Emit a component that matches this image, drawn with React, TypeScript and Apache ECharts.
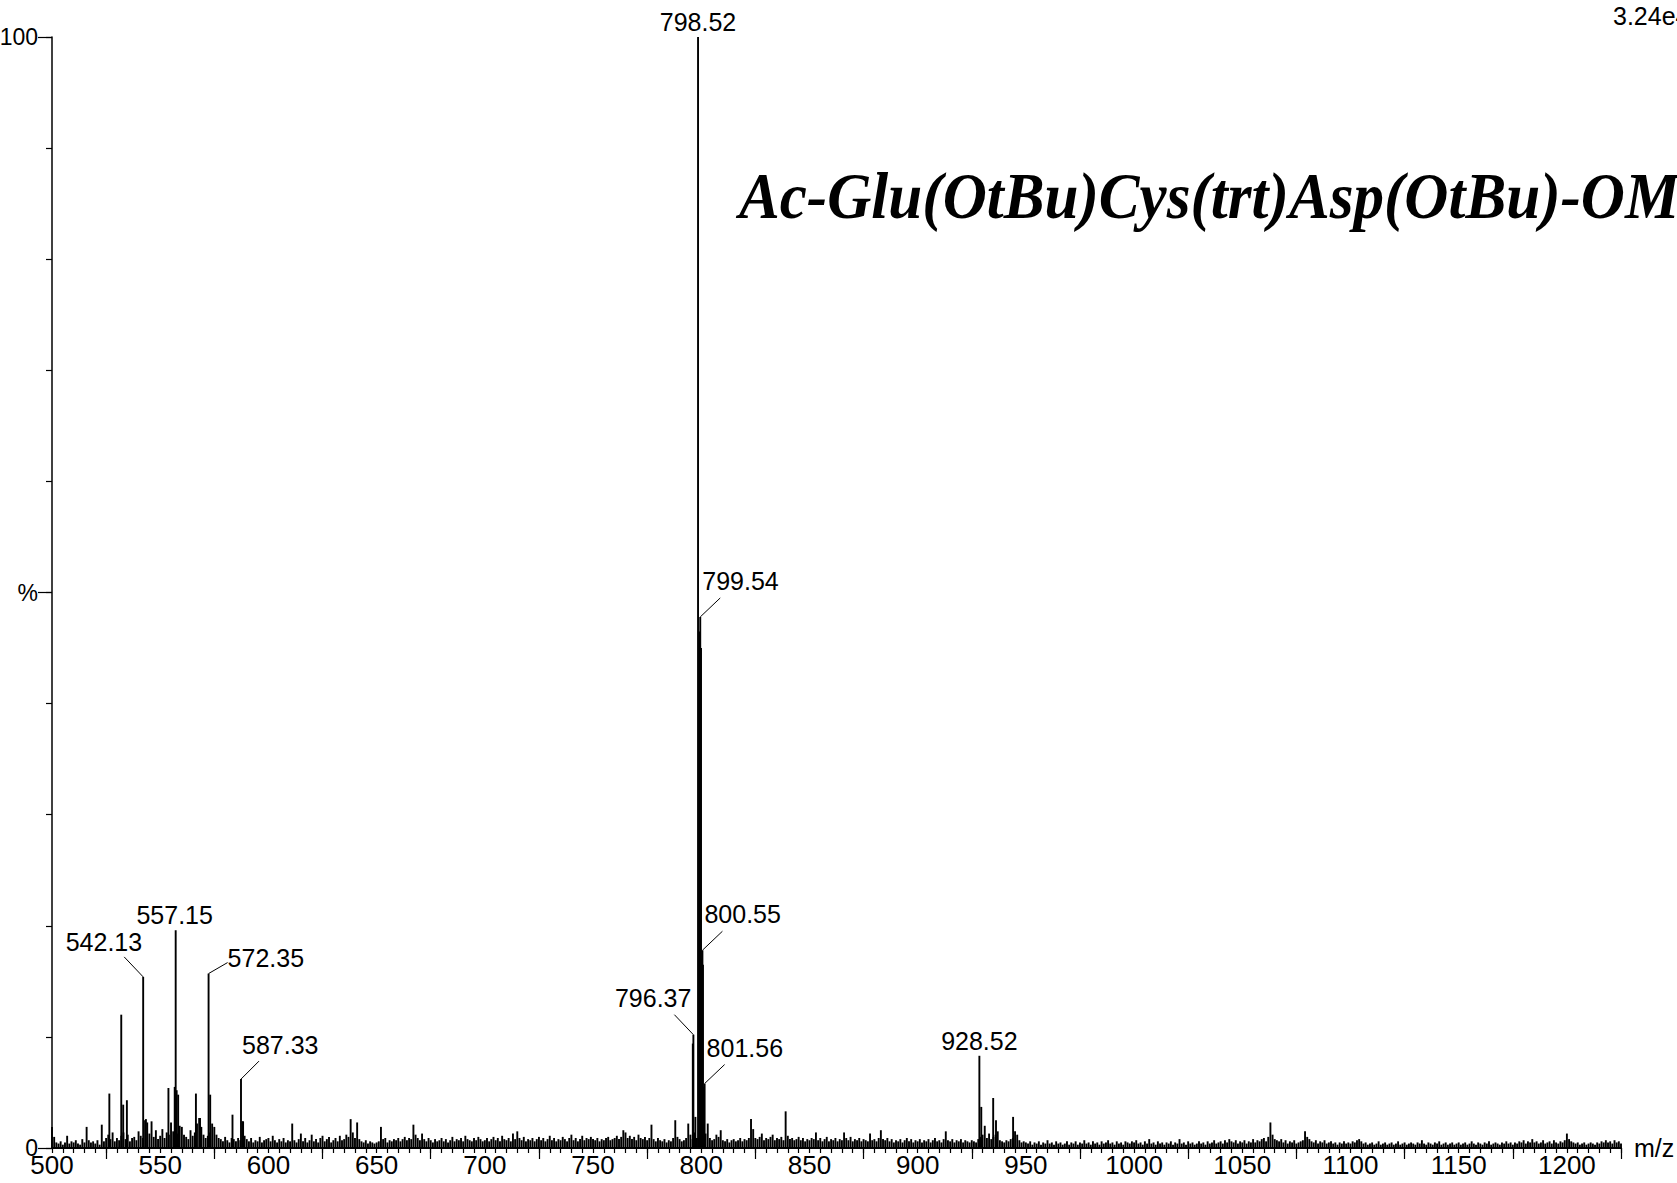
import React, { useEffect, useRef } from "react";
import * as echarts from "echarts";

// ---- axis ranges & ticks ----
const X_MIN = 500;
const X_MAX = 1225;
const xLabelValues = [500, 550, 600, 650, 700, 750, 800, 850, 900, 950, 1000, 1050, 1100, 1150, 1200];
const xLongTicks = [525, 575, 625, 675, 725, 775, 825, 875, 925, 975, 1025, 1075, 1125, 1175, 1225];
const yLabelValues = [0, 50, 100];
const yLabelTexts = ["0", "%", "100"];

// ---- baseline noise, one value per m/z unit starting at 500 (units: 0.1 %) ----
const noiseStart = 500;
const noise500 = [19,10,5,4,6,3,5,11,4,6, 5,7,4,3,8,5,19,7,5,6, 4,7,3,21,6,9,12,8,14,6, 9,7,11,14,8,12,6,9,10,7, 15,11,9,25,23,13,24,10,16,8];
const noise550 = [11,17,9,14,12,23,15,18,13,20, 19,12,10,8,16,11,14,22,27,19, 12,9,11,14,22,19,12,9,8,6, 10,7,5,9,8,6,9,7,24,11, 8,6,9,5,7,6,10,5,7,8];
const noise600 = [9,6,11,7,5,8,6,9,5,7, 6,22,7,5,8,13,6,9,5,7, 12,6,8,5,9,11,6,8,10,5, 7,9,6,11,7,8,12,10,26,14, 9,23,8,6,5,7,4,6,5,4];
const noise650 = [5,6,19,8,9,5,7,6,8,7, 9,6,8,10,7,9,8,21,12,9, 7,13,8,6,9,7,5,8,6,7, 9,6,8,5,7,10,6,8,7,9, 6,11,8,7,6,9,7,10,8,6];
const noise700 = [7,9,6,8,10,7,9,6,11,8, 7,9,6,13,8,15,9,7,10,6, 8,7,9,6,8,10,7,9,6,8, 11,7,9,6,8,7,10,8,6,9, 12,7,9,6,8,11,7,9,8,10];
const noise750 = [8,7,9,6,8,7,9,10,7,8, 9,11,8,10,16,14,9,11,8,10, 7,12,9,8,10,7,9,21,8,6, 9,7,6,8,5,7,6,9,25,10, 8,6,7,9,22,12,8,14,9,10];
const noise800 = [12,10,13,22,9,7,8,12,10,16, 7,6,8,5,7,8,6,7,9,6, 8,7,9,26,17,9,8,10,13,7, 9,8,10,12,7,9,8,10,7,33, 11,8,9,7,8,10,7,9,6,8];
const noise850 = [7,9,8,14,7,9,6,8,10,6, 8,7,9,6,8,7,14,9,7,10, 6,8,7,9,6,8,7,6,13,7, 8,6,9,16,8,7,9,6,8,5, 7,6,8,5,7,9,6,8,5,7];
const noise900 = [6,8,5,7,6,8,5,7,9,6, 7,5,8,15,7,6,8,5,7,6, 8,5,7,6,5,7,6,5,8,10, 12,20,9,13,8,10,12,15,7,6, 5,7,6,8,9,15,12,7,5,6];
const noise950 = [5,4,6,3,5,4,6,3,5,4, 7,4,5,3,6,4,5,3,4,6, 3,5,4,6,3,5,4,7,4,5, 3,6,4,5,3,6,4,5,7,4, 5,3,6,4,5,3,6,5,4,6];
const noise1000 = [5,7,4,5,3,6,4,8,4,5, 3,6,4,5,3,5,4,6,3,5, 4,8,4,5,3,6,4,5,3,4, 6,4,5,3,6,4,5,7,4,5, 6,4,7,5,8,6,5,7,4,6];
const noise1050 = [5,7,4,6,5,8,5,7,6,8, 9,6,10,23,12,8,7,6,8,5, 7,4,6,5,7,4,5,6,7,15, 10,8,6,5,7,4,6,5,7,4, 5,6,4,5,3,5,4,6,4,5];
const noise1100 = [4,6,5,7,8,6,4,5,3,4, 5,3,4,6,3,4,5,3,4,5, 3,4,6,3,4,5,3,4,5,4, 3,5,4,7,4,3,5,4,3,5, 4,6,3,4,5,3,4,5,3,4];
const noise1150 = [5,3,4,5,3,4,6,4,3,5, 4,3,5,4,6,3,4,5,4,3, 5,4,6,4,5,3,5,4,6,5, 7,4,6,5,8,5,6,4,5,7, 4,5,6,4,7,5,4,6,5,7];
const noise1200 = [13,8,6,5,4,5,3,4,5,3, 4,5,4,3,5,4,6,5,7,5, 6,4,7,5,6,4];

// ---- unlabelled peaks (m/z, %) ----
const peakMz = [526.5, 532.0, 532.9, 534.6, 543.4, 553.8, 556.7, 557.6, 558.3, 566.5, 568.4, 573.1, 583.4, 588.3, 796.1, 797.3, 799.2, 799.9, 800.3, 800.8, 801.3, 929.4, 934.9, 936.2, 944.1];
const peakInt = [4.9, 12.0, 3.9, 4.3, 2.6, 5.4, 5.5, 5.2, 4.8, 4.9, 2.7, 4.8, 3.0, 2.4, 9.4, 2.8, 46.5, 45.0, 17.0, 16.5, 5.5, 3.7, 4.5, 2.5, 2.8];

// ---- labelled peaks ----
const labelNames = ["798.52", "799.54", "800.55", "801.56", "796.37", "928.52", "542.13", "557.15", "572.35", "587.33"];
const labelInt = [100, 47.8, 17.8, 5.8, 10.2, 8.3, 15.4, 19.6, 15.7, 6.2];

// label placement styles (pixel offsets from the peak top)
type LStyle = { lead: number[] | null; tx: number; ty: number; align: string };
const labelStyle: Record<string, LStyle> = {
  "798.52": { lead: null, tx: 0, ty: -15, align: "center" },
  "799.54": { lead: [20, -19], tx: 2, ty: -36, align: "left" },
  "800.55": { lead: [20, -19], tx: 2, ty: -36, align: "left" },
  "801.56": { lead: [20, -19], tx: 2, ty: -36, align: "left" },
  "796.37": { lead: [-19, -20], tx: -2, ty: -37, align: "right" },
  "928.52": { lead: null, tx: 0, ty: -15, align: "center" },
  "542.13": { lead: [-19, -20], tx: -1, ty: -35, align: "right" },
  "557.15": { lead: null, tx: -1, ty: -15, align: "center" },
  "572.35": { lead: [19, -11], tx: 19, ty: -16, align: "left" },
  "587.33": { lead: [18, -18], tx: 1, ty: -34, align: "left" },
};

const TITLE = "Ac-Glu(OtBu)Cys(trt)Asp(OtBu)-OMe";
const SCALE_TEXT = "3.24e4";

export default function App() {
  const ref = useRef<HTMLDivElement>(null);
  useEffect(() => {
    if (!ref.current) return;
    const chart = echarts.init(ref.current, undefined, { renderer: "svg" });

    const noiseAll = [
      ...noise500, ...noise550, ...noise600, ...noise650, ...noise700, ...noise750,
      ...noise800, ...noise850, ...noise900, ...noise950, ...noise1000, ...noise1050,
      ...noise1100, ...noise1150, ...noise1200,
    ];
    const sticks: number[][] = noiseAll.map((v, i) => [noiseStart + i, v / 10]);
    peakMz.forEach((m, i) => sticks.push([m, peakInt[i]]));
    const labelMz = labelNames.map((s) => parseFloat(s));
    labelMz.forEach((m, i) => sticks.push([m, labelInt[i]]));
    const labelData = labelMz.map((m, i) => [m, labelInt[i]]);

    const axisColor = "#000";
    const font = "Liberation Sans";

    const option: any = {
      animation: false,
      backgroundColor: "#fff",
      grid: { left: 52, right: 56, top: 37, bottom: 35, containLabel: false, outerBoundsMode: "none" },
      xAxis: [
        {
          type: "value", min: X_MIN, max: X_MAX, interval: 5, position: "bottom",
          axisLine: { show: true, onZero: false, lineStyle: { color: axisColor, width: 1.8 } },
          axisTick: { show: true, length: 5, lineStyle: { color: axisColor, width: 1.2 } },
          axisLabel: {
            show: true, margin: 4, fontSize: 26, color: "#000", fontFamily: font,
            formatter: (v: number) => (xLabelValues.indexOf(v) >= 0 ? String(v) : ""),
          },
          splitLine: { show: false },
          name: "m/z", nameLocation: "end", nameGap: 13,
          nameTextStyle: { fontSize: 25, color: "#000", fontFamily: font, verticalAlign: "middle" },
        },
        {
          type: "value", min: X_MIN, max: X_MAX, position: "bottom",
          axisLine: { show: false, onZero: false },
          axisTick: { show: true, length: 11, customValues: xLongTicks, lineStyle: { color: axisColor, width: 1.2 } },
          axisLabel: { show: false },
          splitLine: { show: false },
        },
      ],
      yAxis: [
        {
          type: "value", min: 0, max: 100, interval: 10, position: "left",
          axisLine: { show: true, onZero: false, lineStyle: { color: axisColor, width: 1.5 } },
          axisTick: { show: true, length: 6, lineStyle: { color: axisColor, width: 1.2 } },
          axisLabel: {
            show: true, margin: 14, fontSize: 23, color: "#000", fontFamily: font,
            formatter: (v: number) => {
              const k = yLabelValues.indexOf(v);
              return k >= 0 ? yLabelTexts[k] : "";
            },
          },
          splitLine: { show: false },
        },
        {
          type: "value", min: 0, max: 100, position: "left",
          axisLine: { show: false, onZero: false },
          axisTick: { show: true, length: 14, customValues: yLabelValues, lineStyle: { color: axisColor, width: 1.2 } },
          axisLabel: { show: false },
          splitLine: { show: false },
        },
      ],
      graphic: [
        {
          type: "text", x: 739, y: 196, scaleX: 0.94, silent: true,
          style: {
            text: TITLE, fill: "#000", fontFamily: "Liberation Serif", fontStyle: "italic",
            fontWeight: "bold", fontSize: 65, align: "left", verticalAlign: "middle",
          },
        },
        {
          type: "text", x: 1613, y: 16, silent: true,
          style: { text: SCALE_TEXT, fill: "#000", fontFamily: font, fontSize: 25, align: "left", verticalAlign: "middle" },
        },
      ],
      series: [
        {
          type: "custom", name: "spectrum", xAxisIndex: 0, yAxisIndex: 0, silent: true,
          encode: { x: 0, y: 1 },
          data: sticks,
          renderItem: (params: any, api: any) => {
            const x = api.value(0);
            const y = api.value(1);
            const a = api.coord([x, 0]);
            const b = api.coord([x, y]);
            return {
              type: "line",
              shape: { x1: a[0], y1: a[1], x2: b[0], y2: b[1] },
              style: { stroke: "#000", lineWidth: 1.9 },
            };
          },
        },
        {
          type: "custom", name: "labels", xAxisIndex: 0, yAxisIndex: 0, silent: true,
          encode: { x: 0, y: 1 },
          data: labelData,
          renderItem: (params: any, api: any) => {
            const idx = params.dataIndex;
            const name = labelNames[idx];
            const st = labelStyle[name];
            const p = api.coord([api.value(0), api.value(1)]);
            const children: any[] = [];
            if (st.lead) {
              children.push({
                type: "line",
                shape: { x1: p[0], y1: p[1], x2: p[0] + st.lead[0], y2: p[1] + st.lead[1] },
                style: { stroke: "#000", lineWidth: 1 },
              });
            }
            children.push({
              type: "text",
              x: p[0] + st.tx,
              y: p[1] + st.ty,
              style: {
                text: name, fill: "#000", fontSize: 25, fontFamily: font,
                align: st.align, verticalAlign: "middle",
              },
            });
            return { type: "group", children };
          },
        },
      ],
    };

    chart.setOption(option);
    return () => chart.dispose();
  }, []);

  return (
    <div
      ref={ref}
      style={{ position: "absolute", left: 0, top: 0, width: 1677, height: 1183, background: "#fff" }}
    />
  );
}
